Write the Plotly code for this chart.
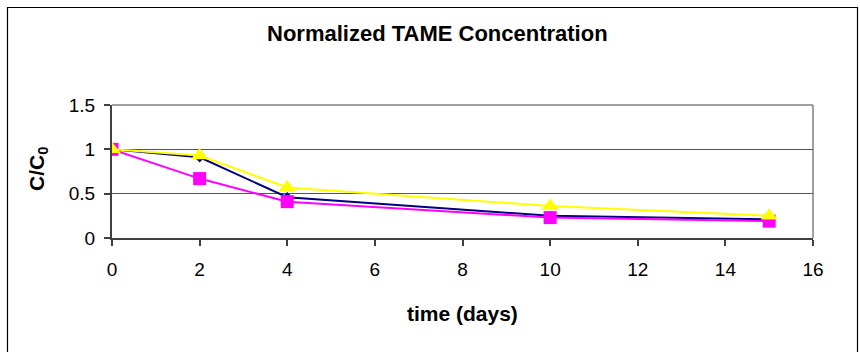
import plotly.graph_objects as go

days = [0, 2, 4, 10, 15]
series_navy = [1.0, 0.91, 0.46, 0.25, 0.21]
series_pink = [1.0, 0.67, 0.41, 0.23, 0.19]
series_yellow = [1.0, 0.93, 0.57, 0.36, 0.25]

x_ticks = [0, 2, 4, 6, 8, 10, 12, 14, 16]
y_ticks = [0, 0.5, 1, 1.5]
y_tick_text = ["0", "0.5", "1", "1.5"]

FONT = "Liberation Sans, Arial, sans-serif"

fig = go.Figure()
fig.add_trace(go.Scatter(x=days, y=series_navy, mode="lines+markers",
                         line=dict(color="#000080", width=2),
                         marker=dict(symbol="diamond", size=8, color="#000080"),
                         showlegend=False))
fig.add_trace(go.Scatter(x=days, y=series_pink, mode="lines+markers",
                         line=dict(color="#FF00FF", width=2),
                         marker=dict(symbol="square", size=13, color="#FF00FF"),
                         showlegend=False))
fig.add_trace(go.Scatter(x=days, y=series_yellow, mode="lines+markers",
                         line=dict(color="#FFFF00", width=2),
                         marker=dict(symbol="triangle-up", size=15, color="#FFFF00"),
                         showlegend=False))

L, R, T, B = 112, 47, 105, 114
W, H = 860, 352
pw = W - L - R
ph = H - T - B

def px_x(p):
    return (p - L) / pw

def px_y(p):
    return (H - B - p) / ph

fig.update_layout(
    width=W, height=H,
    margin=dict(l=L, r=R, t=T, b=B, pad=0),
    paper_bgcolor="white", plot_bgcolor="white",
    font=dict(family=FONT, size=19, color="black"),
    xaxis=dict(range=[0, 16], tickvals=x_ticks, ticks="outside", ticklen=6,
               tickcolor="#404040", tickwidth=1.5, showline=True, linecolor="#404040",
               linewidth=2, showgrid=False, zeroline=False, ticklabelstandoff=7,
               tickfont=dict(size=19)),
    yaxis=dict(range=[0, 1.5], tickvals=y_ticks, ticktext=y_tick_text, ticks="outside",
               ticklen=6, tickcolor="#404040", tickwidth=1.5, showline=True,
               linecolor="#404040", linewidth=2, showgrid=True, gridcolor="#555555",
               gridwidth=1, zeroline=False, ticklabelstandoff=5,
               tickfont=dict(size=19)),
    shapes=[
        dict(type="line", xref="paper", yref="paper", x0=0, x1=1, y0=1, y1=1,
             line=dict(color="#808080", width=1.5), layer="below"),
        dict(type="line", xref="paper", yref="paper", x0=1, x1=1, y0=0, y1=1,
             line=dict(color="#808080", width=1.5), layer="below"),
        dict(type="rect", xref="paper", yref="paper",
             x0=px_x(7.5), x1=px_x(857.5), y0=px_y(354), y1=px_y(7.5),
             line=dict(color="black", width=1.2), fillcolor="rgba(0,0,0,0)"),
    ],
    annotations=[
        dict(text="<b>Normalized TAME Concentration</b>", xref="paper", yref="paper",
             x=px_x(437), y=px_y(33), xanchor="center", yanchor="middle",
             showarrow=False, font=dict(size=22, family=FONT)),
        dict(text="<b>time (days)</b>", xref="paper", yref="paper",
             x=px_x(462), y=px_y(313), xanchor="center", yanchor="middle",
             showarrow=False, font=dict(size=21, family=FONT)),
        dict(text="<b>C/C<sub>0</sub></b>", xref="paper", yref="paper",
             x=px_x(38), y=px_y(169), xanchor="center", yanchor="middle",
             textangle=-90, showarrow=False, font=dict(size=21, family=FONT)),
    ],
)

fig.write_html("out.html")
